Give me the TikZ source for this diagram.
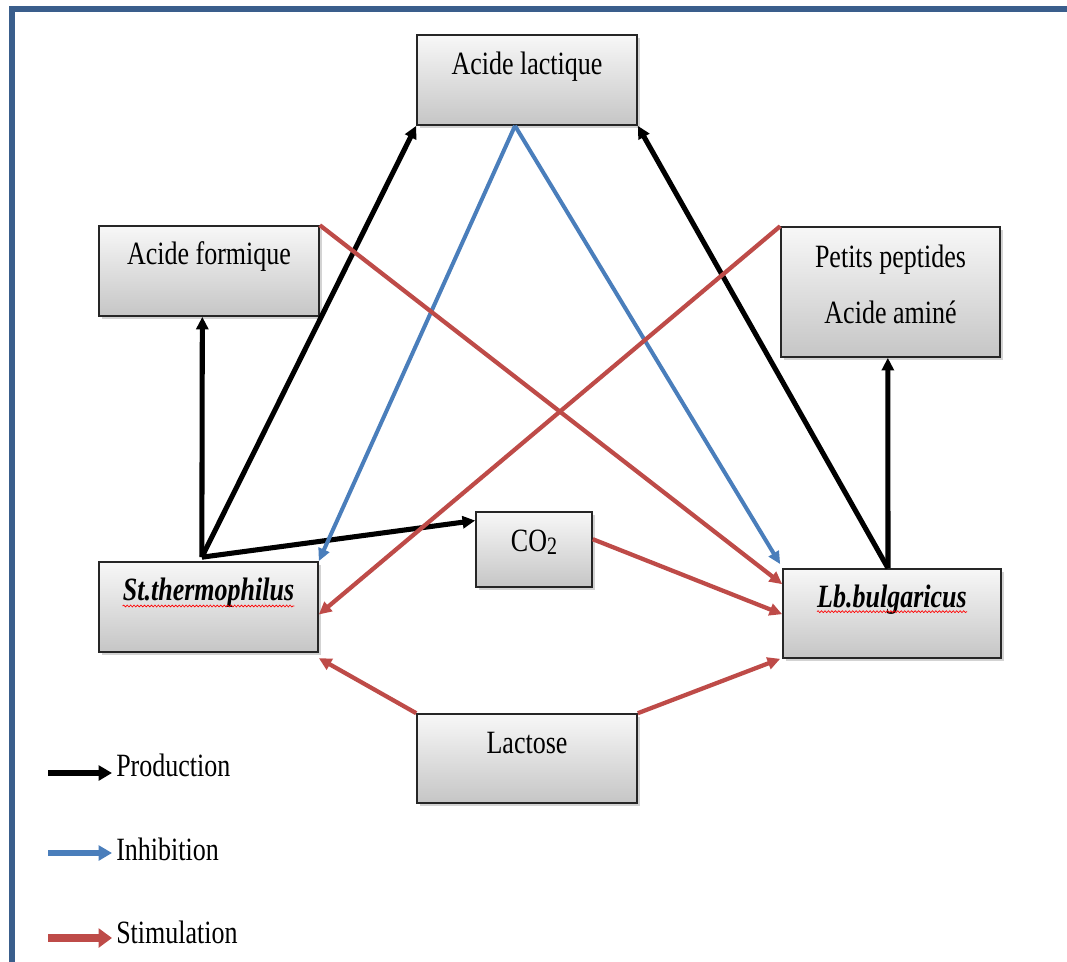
\documentclass[tikz,border=0pt]{standalone}
\usepackage{fontspec}
\setmainfont{Liberation Serif}
\usetikzlibrary{arrows.meta,shadows,decorations.pathmorphing,calc}
\definecolor{framec}{HTML}{3A5E8C}
\definecolor{inhc}{HTML}{4A7EBB}
\definecolor{stimc}{HTML}{BE4B48}
\newcommand{\tall}[1]{\scalebox{1}[1.25]{#1}}
\begin{document}
\begin{tikzpicture}[x=0.75pt,y=-0.75pt,
  box/.style={draw=black!85, line width=1.2pt, top color=gray!6, bottom color=gray!45,
    drop shadow={shadow xshift=2pt,shadow yshift=-2pt,opacity=0.35}, inner sep=0pt},
  lbl/.style={font=\fontsize{19.5}{22}\selectfont, anchor=base, inner sep=0pt},
  lgd/.style={font=\fontsize{19.5}{22}\selectfont, anchor=base west, inner sep=0pt},
  prod/.style={black, line width=3.8pt, -{Triangle[length=9.5pt,width=9pt]}},
  inh/.style={inhc, line width=3pt, -{Triangle[length=9.5pt,width=8.5pt]}},
  stim/.style={stimc, line width=3.2pt, -{Triangle[length=9.5pt,width=9pt]}},
  wavy/.style={red, line width=0.5pt, decorate, decoration={snake, amplitude=0.7pt, segment length=2.6pt}}
]
\useasboundingbox (0,0) rectangle (1067,962);
% frame
\draw[framec!40, line width=5.2pt] (12,975) -- (12,9) -- (1080,9);
\draw[framec, line width=4pt] (12,975) -- (12,9) -- (1080,9);

% boxes
\node[box, minimum width=165pt, minimum height=67.5pt] (lac) at (527,80) {};
\node[box, minimum width=165pt, minimum height=67.5pt] (af) at (209,271) {};
\node[box, minimum width=164.25pt, minimum height=97.5pt] (pp) at (890.5,292) {};
\node[box, minimum width=87pt, minimum height=56.25pt] (co) at (534,549.5) {};
\node[box, minimum width=164.25pt, minimum height=67.5pt] (st) at (208.5,607) {};
\node[box, minimum width=163.5pt, minimum height=66.75pt] (lb) at (892,613.5) {};
\node[box, minimum width=165pt, minimum height=66.75pt] (la) at (527,758.5) {};

% texts
\node[lbl] (tlac) at (527,75) {\tall{Acide lactique}};
\node[lbl] (taf) at (209,265) {\tall{Acide formique}};
\node[lbl] (tpp1) at (890.5,268) {\tall{Petits peptides}};
\node[lbl] (tpp2) at (890.5,324) {\tall{Acide aminé}};
\node[lbl] (tco) at (534,551) {\tall{CO\raisebox{-0.25ex}{\fontsize{15}{15}\selectfont 2}}};
\node[lbl] (tst) at (208.5,600) {\tall{\textbf{\textit{St.thermophilus}}}};
\node[lbl] (tlb) at (892,607) {\tall{\textbf{\textit{Lb.bulgaricus}}}};
\node[lbl] (tla) at (527,753) {\tall{Lactose}};
\draw[wavy] ([yshift=-4.5pt]tst.base west) -- ([yshift=-4.5pt]tst.base east);
\draw[wavy] ([yshift=-3.5pt]tlb.base west) -- ([yshift=-3.5pt]tlb.base east);

% production
\coordinate (stT) at ([xshift=-5pt,yshift=3pt]st.north);
\coordinate (lbT) at ([xshift=-3pt]lb.north);
\draw[prod] (stT) -- (lac.south west);
\draw[prod] (stT) -- ([xshift=-5pt]af.south);
\draw[prod] (stT) -- ([yshift=-7pt]co.north west);
\draw[prod] (lbT) -- (lac.south east);
\draw[prod] (lbT) -- ([xshift=-2pt]pp.south);

% inhibition
\coordinate (lacB) at ([xshift=-9pt]lac.south);
\draw[inh] (lacB) -- (st.north east);
\draw[inh] (lacB) -- ([xshift=-1.5pt,yshift=3pt]lb.north west);

% stimulation
\draw[stim] (af.north east) -- ([yshift=-12pt]lb.north west);
\draw[stim] (pp.north west) -- ([yshift=-40pt]st.north east);
\draw[stim] ([yshift=-21pt]co.north east) -- ([yshift=-34.5pt]lb.north west);
\draw[stim] (la.north west) -- ([yshift=-4pt]st.south east);
\draw[stim] (la.north east) -- ([xshift=-1.5pt]lb.south west);

% legend
\coordinate (l1a) at (48,773); \coordinate (l1b) at (112,773);
\coordinate (l2a) at (48,853); \coordinate (l2b) at (112,853);
\coordinate (l3a) at (48,938); \coordinate (l3b) at (112,938);
\draw[black, line width=5pt, -{Triangle[length=10pt,width=11pt]}] (l1a) -- (l1b);
\draw[inhc, line width=4pt, -{Triangle[length=10pt,width=11pt]}] (l2a) -- (l2b);
\draw[stimc, line width=6.5pt, -{Triangle[length=10pt,width=14pt]}] (l3a) -- (l3b);
\node[lgd] (g1) at (116,776) {\tall{Production}};
\node[lgd] (g2) at (116,860) {\tall{Inhibition}};
\node[lgd] (g3) at (116,943) {\tall{Stimulation}};
\end{tikzpicture}
\end{document}
